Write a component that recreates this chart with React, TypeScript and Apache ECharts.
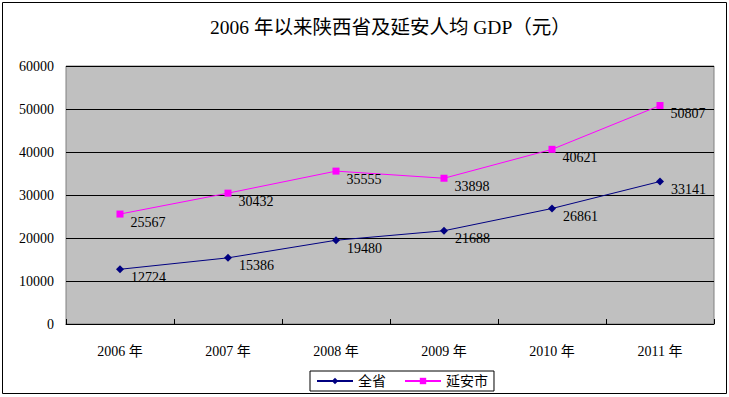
import React, { useEffect, useRef } from "react";
import * as echarts from "echarts";

const categories = ["2006 年", "2007 年", "2008 年", "2009 年", "2010 年", "2011 年"];
const province = [12724, 15386, 19480, 21688, 26861, 33141];
const yanan = [25567, 30432, 35555, 33898, 40621, 50807];
const titleText = "2006 年以来陕西省及延安人均 GDP（元）";
const fontFam = "'Liberation Serif', 'Noto Sans CJK SC', serif";

export default function App() {
  const ref = useRef<HTMLDivElement>(null);
  useEffect(() => {
    document.body.style.margin = "0";
    const chart = echarts.init(ref.current!, undefined, { renderer: "svg" });
    const labelCfg = {
      show: true,
      position: "right",
      distance: 7,
      offset: [0, 8],
      color: "#000",
      fontSize: 14,
      fontFamily: fontFam,
    };
    chart.setOption({
      animation: false,
      backgroundColor: "#fff",
      title: {
        text: titleText,
        left: 205,
        top: 13,
        textStyle: { fontSize: 19.5, fontWeight: "normal", color: "#000", fontFamily: fontFam },
      },
      graphic: [
        {
          type: "rect",
          shape: { x: 2.5, y: 2.5, width: 724, height: 391 },
          style: { fill: "none", stroke: "#000", lineWidth: 1 },
          silent: true,
        },
      ],
      legend: {
        bottom: 6,
        left: 310,
        itemGap: 18,
        itemWidth: 36,
        itemHeight: 8,
        borderColor: "#000",
        borderWidth: 1,
        padding: [3, 6],
        textStyle: { fontSize: 14, color: "#000", fontFamily: fontFam },
        data: ["全省", "延安市"],
      },
      grid: {
        left: 66,
        right: 15,
        top: 66,
        bottom: 73,
        show: true,
        backgroundColor: "#C0C0C0",
        borderColor: "#808080",
        borderWidth: 1,
      },
      xAxis: {
        type: "category",
        data: categories,
        boundaryGap: true,
        axisLine: { lineStyle: { color: "#000", width: 1 } },
        axisTick: { show: true, inside: true, length: 5, lineStyle: { color: "#000" } },
        axisLabel: { margin: 20, fontSize: 14, color: "#000", fontFamily: fontFam },
      },
      yAxis: {
        type: "value",
        min: 0,
        max: 60000,
        interval: 10000,
        axisLine: { show: false },
        axisTick: { show: false },
        splitLine: { show: true, lineStyle: { color: "#000", width: 1 } },
        axisLabel: {
          margin: 12,
          fontSize: 14,
          color: "#000",
          fontFamily: fontFam,
          formatter: (v: number) => String(v),
        },
      },
      series: [
        {
          name: "全省",
          type: "line",
          data: province,
          symbol: "diamond",
          symbolSize: 8,
          showAllSymbol: true,
          itemStyle: { color: "#000080" },
          lineStyle: { color: "#000080", width: 1 },
          label: labelCfg,
        },
        {
          name: "延安市",
          type: "line",
          data: yanan,
          symbol: "rect",
          symbolSize: 7,
          showAllSymbol: true,
          itemStyle: { color: "#FF00FF" },
          lineStyle: { color: "#FF00FF", width: 1 },
          label: labelCfg,
        },
      ],
    });
    return () => chart.dispose();
  }, []);
  return <div ref={ref} style={{ width: 729, height: 397, position: "absolute", left: 0, top: 0 }} />;
}
